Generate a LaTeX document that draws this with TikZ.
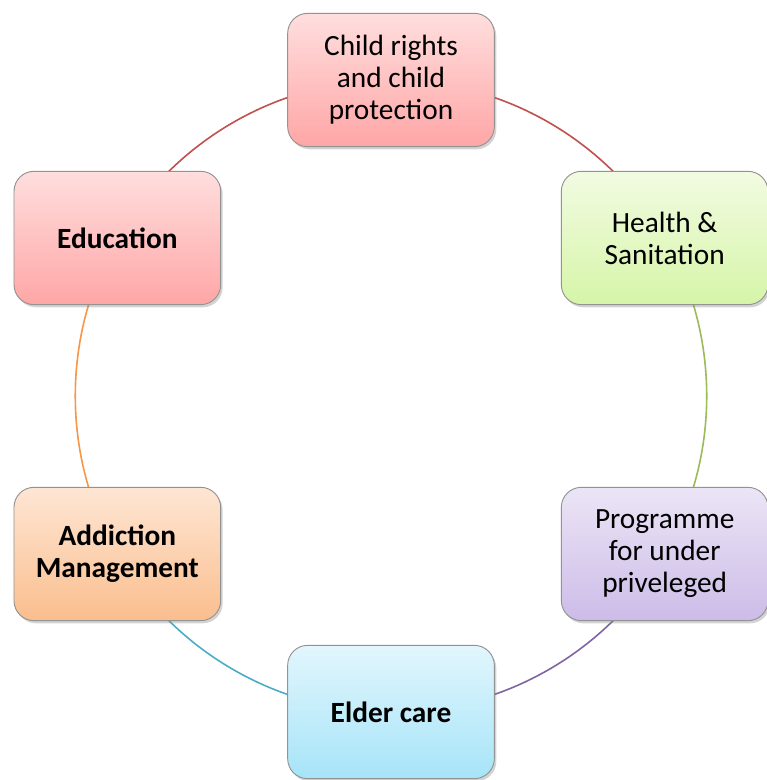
\documentclass[tikz,border=0pt]{standalone}
\usepackage{fontspec}
\setmainfont{Carlito}
\usetikzlibrary{shadows, backgrounds}

\definecolor{redline}{HTML}{C0504D}
\definecolor{greenline}{HTML}{9BBB59}
\definecolor{purpleline}{HTML}{8064A2}
\definecolor{blueline}{HTML}{4BACC6}
\definecolor{orangeline}{HTML}{F79646}

\begin{document}
\begin{tikzpicture}[x=0.75pt, y=0.75pt,
  topic/.style={draw=gray!85, line width=0.7pt, rounded corners=15pt,
    minimum width=155pt, minimum height=100pt, align=center,
    font=\fontsize{22}{24}\selectfont,
    drop shadow={shadow xshift=1.5pt, shadow yshift=-2pt, opacity=0.35, fill=gray}},
  pink/.style={top color={rgb,255:red,255;green,222;blue,222}, bottom color={rgb,255:red,255;green,166;blue,166}},
  green/.style={top color={rgb,255:red,242;green,251;blue,226}, bottom color={rgb,255:red,214;green,245;blue,168}},
  lilac/.style={top color={rgb,255:red,236;green,229;blue,246}, bottom color={rgb,255:red,204;green,188;blue,232}},
  sky/.style={top color={rgb,255:red,226;green,246;blue,253}, bottom color={rgb,255:red,166;green,228;blue,248}},
  peach/.style={top color={rgb,255:red,254;green,230;blue,212}, bottom color={rgb,255:red,250;green,190;blue,142}},
  ring/.style={bend left=30, looseness=0.91, line width=1.2pt}]

  \useasboundingbox (-391,-384) rectangle (375,396);

  \node[topic, pink]  (rights) at (90:316)  {Child rights\\and child\\protection};
  \node[topic, green] (health) at (30:316)  {Health \&\\Sanitation};
  \node[topic, lilac] (prog)   at (-30:316) {Programme\\for under\\priveleged};
  \node[topic, sky]   (elder)  at (-90:316) {\textbf{Elder care}};
  \node[topic, peach] (addict) at (210:316) {\textbf{Addiction}\\\textbf{Management}};
  \node[topic, pink]  (edu)    at (150:316) {\textbf{Education}};

  % ring behind the boxes
  \begin{pgfonlayer}{background}
  \path
    (rights.center) edge [ring, redline] (health.center)
    (health.center) edge [ring, greenline] (prog.center)
    (prog.center)   edge [ring, purpleline] (elder.center)
    (elder.center)  edge [ring, blueline] (addict.center)
    (addict.center) edge [ring, orangeline] (edu.center)
    (edu.center)    edge [ring, redline] (rights.center);
  \end{pgfonlayer}
\end{tikzpicture}
\end{document}
